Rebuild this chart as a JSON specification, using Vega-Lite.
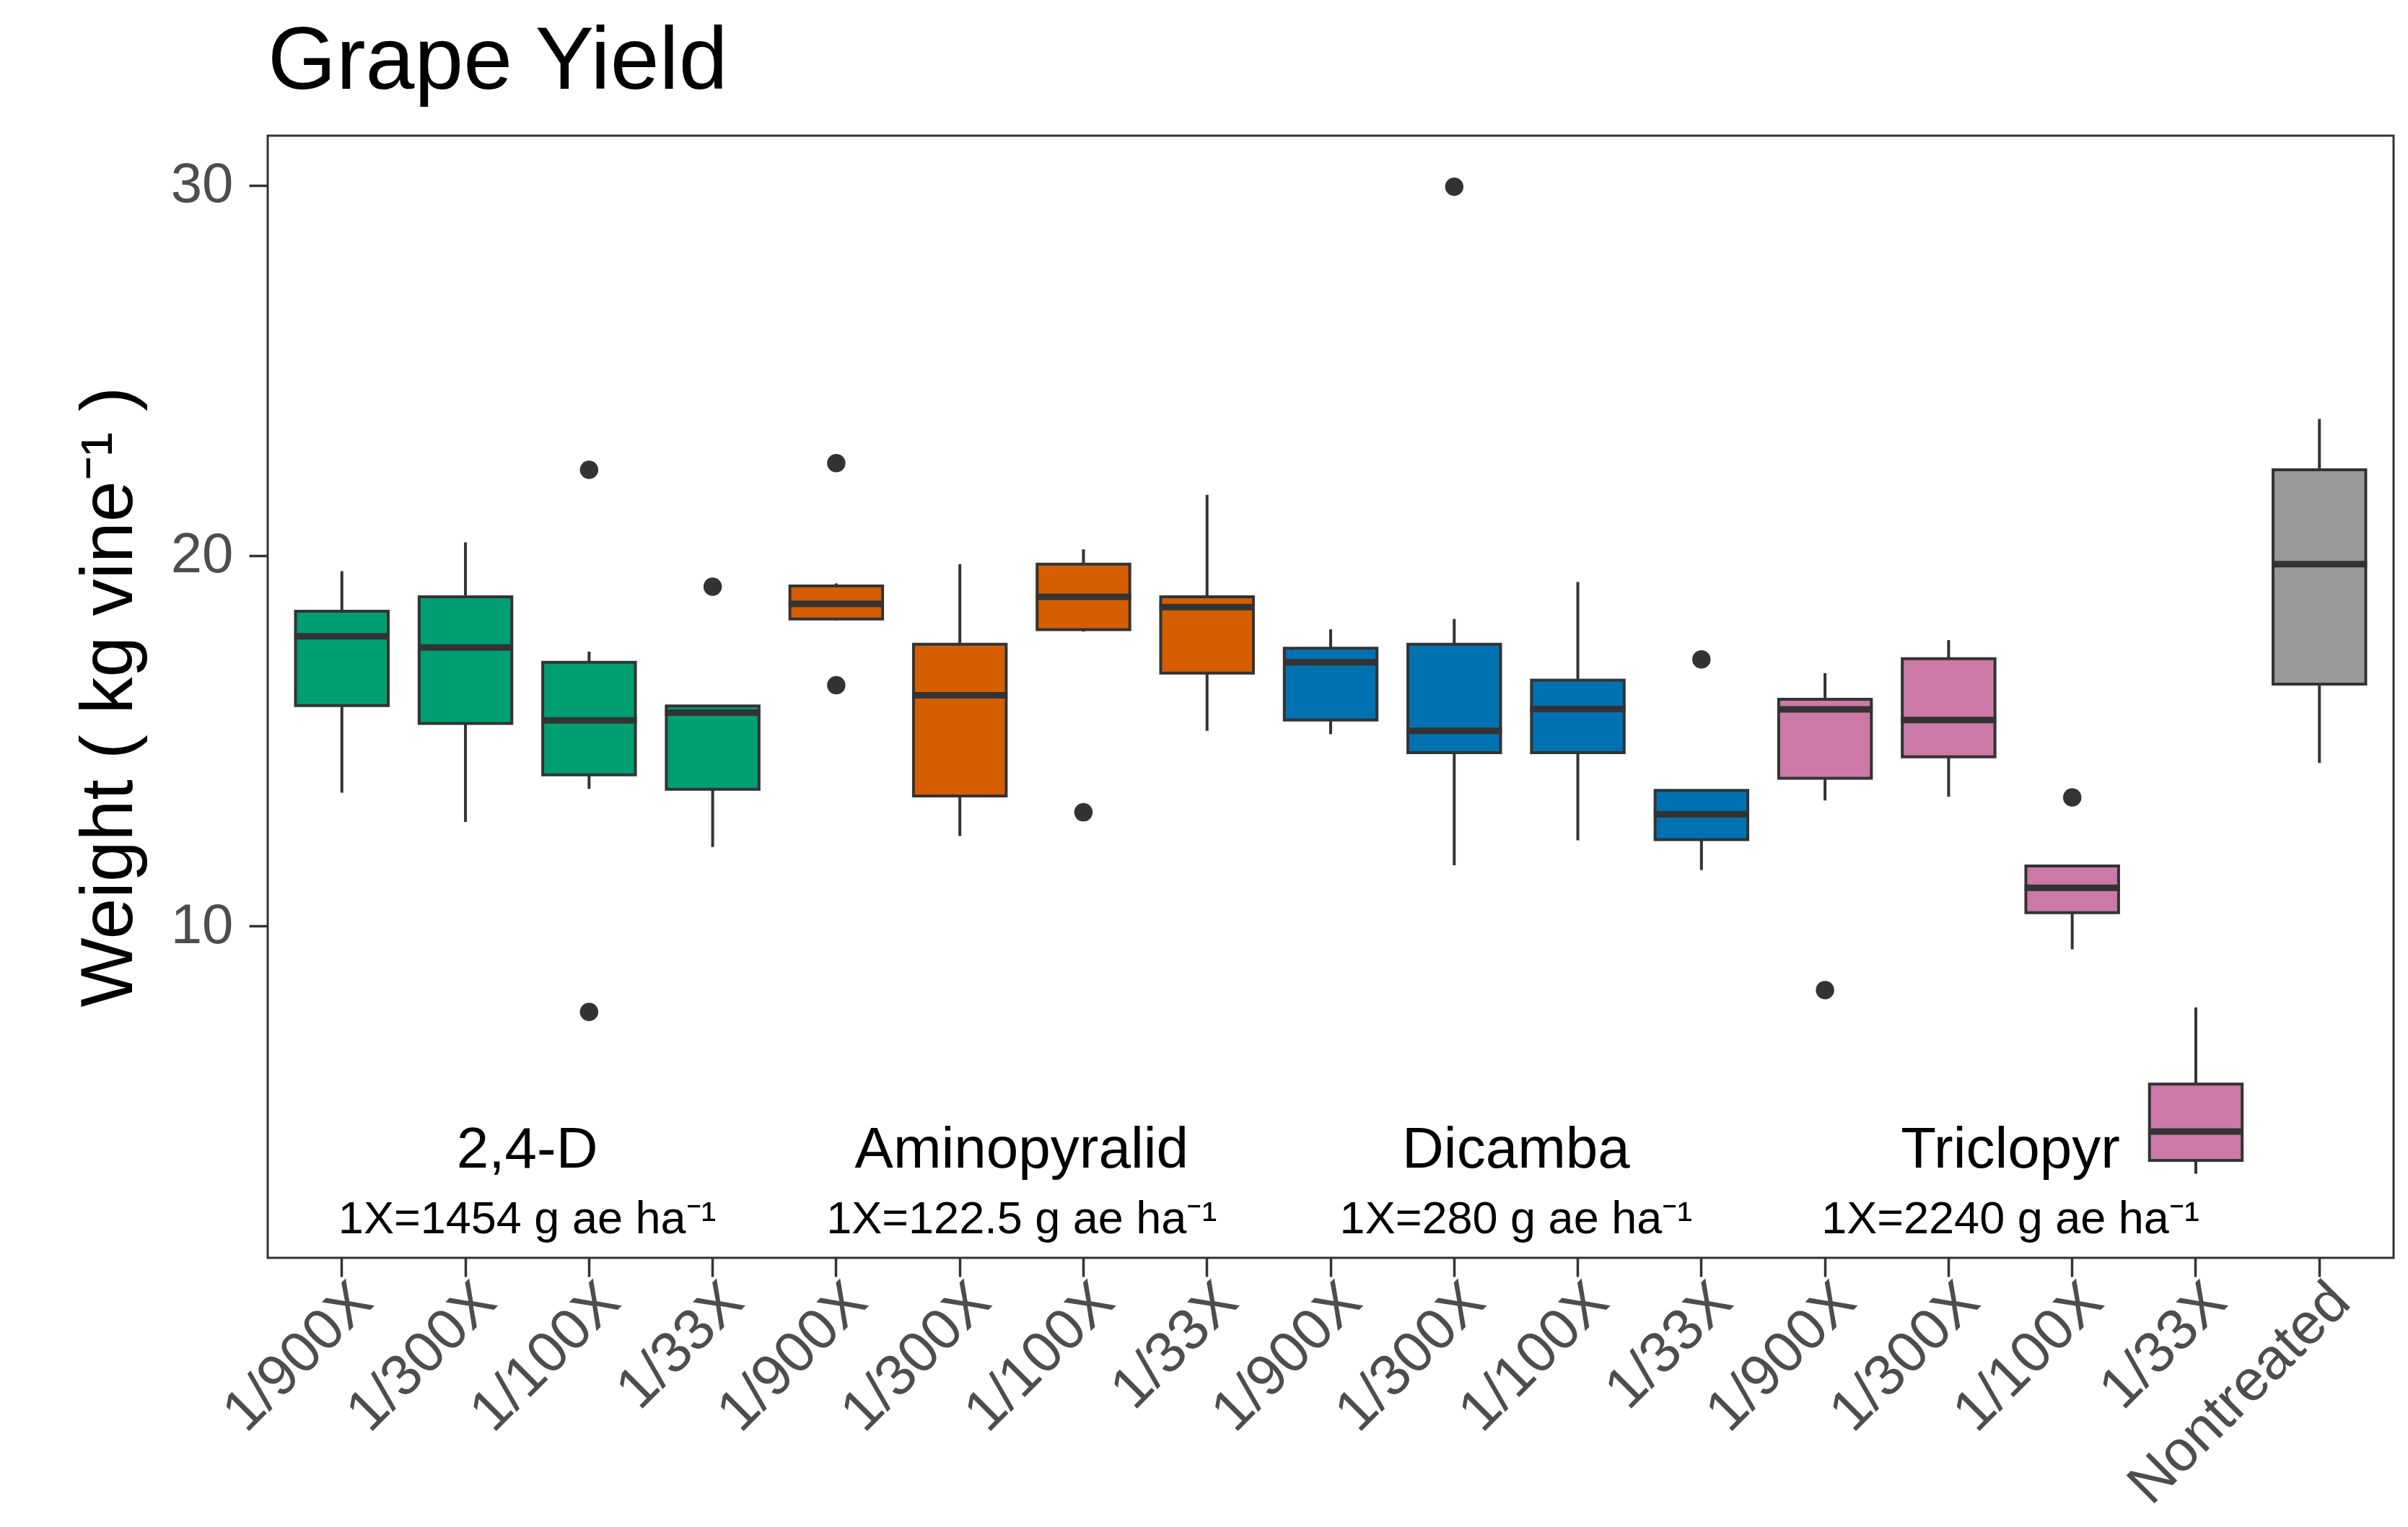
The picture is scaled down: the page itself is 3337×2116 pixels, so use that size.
{
  "$schema": "https://vega.github.io/schema/vega-lite/v6.json",
  "width": 2946,
  "height": 1555,
  "autosize": {"type": "none"},
  "padding": {"left": 371, "top": 188, "right": 20, "bottom": 373},
  "background": "white",
  "title": {
    "text": "Grape Yield",
    "anchor": "start",
    "frame": "group",
    "fontSize": 122,
    "fontWeight": "normal",
    "font": "Liberation Sans",
    "color": "#000000",
    "baseline": "alphabetic",
    "offset": -57
  },
  "config": {
    "font": "Liberation Sans",
    "view": {"stroke": "#333333", "strokeWidth": 3}
  },
  "datasets": {
    "boxes": [
      {"trt": "2,4-D|1/900X", "herb": "2,4-D", "lower": 13.60, "q1": 15.95, "median": 17.82, "q3": 18.50, "upper": 19.58},
      {"trt": "2,4-D|1/300X", "herb": "2,4-D", "lower": 12.81, "q1": 15.47, "median": 17.52, "q3": 18.89, "upper": 20.36},
      {"trt": "2,4-D|1/100X", "herb": "2,4-D", "lower": 13.70, "q1": 14.08, "median": 15.55, "q3": 17.12, "upper": 17.41},
      {"trt": "2,4-D|1/33X", "herb": "2,4-D", "lower": 12.13, "q1": 13.69, "median": 15.76, "q3": 15.94, "upper": 15.94},
      {"trt": "Aminopyralid|1/900X", "herb": "Aminopyralid", "lower": 18.25, "q1": 18.29, "median": 18.70, "q3": 19.18, "upper": 19.25},
      {"trt": "Aminopyralid|1/300X", "herb": "Aminopyralid", "lower": 12.43, "q1": 13.51, "median": 16.23, "q3": 17.61, "upper": 19.77},
      {"trt": "Aminopyralid|1/100X", "herb": "Aminopyralid", "lower": 17.95, "q1": 18.00, "median": 18.89, "q3": 19.77, "upper": 20.17},
      {"trt": "Aminopyralid|1/33X", "herb": "Aminopyralid", "lower": 15.27, "q1": 16.83, "median": 18.61, "q3": 18.89, "upper": 21.64},
      {"trt": "Dicamba|1/900X", "herb": "Dicamba", "lower": 15.18, "q1": 15.56, "median": 17.12, "q3": 17.50, "upper": 18.01},
      {"trt": "Dicamba|1/300X", "herb": "Dicamba", "lower": 11.64, "q1": 14.68, "median": 15.27, "q3": 17.61, "upper": 18.29},
      {"trt": "Dicamba|1/100X", "herb": "Dicamba", "lower": 12.31, "q1": 14.68, "median": 15.86, "q3": 16.64, "upper": 19.29},
      {"trt": "Dicamba|1/33X", "herb": "Dicamba", "lower": 11.51, "q1": 12.33, "median": 13.02, "q3": 13.66, "upper": 13.66},
      {"trt": "Triclopyr|1/900X", "herb": "Triclopyr", "lower": 13.39, "q1": 13.99, "median": 15.85, "q3": 16.12, "upper": 16.83},
      {"trt": "Triclopyr|1/300X", "herb": "Triclopyr", "lower": 13.49, "q1": 14.57, "median": 15.56, "q3": 17.22, "upper": 17.72},
      {"trt": "Triclopyr|1/100X", "herb": "Triclopyr", "lower": 9.37, "q1": 10.36, "median": 11.03, "q3": 11.62, "upper": 11.62},
      {"trt": "Triclopyr|1/33X", "herb": "Triclopyr", "lower": 3.31, "q1": 3.67, "median": 4.45, "q3": 5.73, "upper": 7.80},
      {"trt": "Nontreated", "herb": "Nontreated", "lower": 14.40, "q1": 16.53, "median": 19.77, "q3": 22.32, "upper": 23.69}
    ],
    "outliers": [
      {"trt": "2,4-D|1/100X", "value": 22.32},
      {"trt": "2,4-D|1/100X", "value": 7.68},
      {"trt": "2,4-D|1/33X", "value": 19.16},
      {"trt": "Aminopyralid|1/900X", "value": 22.50},
      {"trt": "Aminopyralid|1/900X", "value": 16.50},
      {"trt": "Aminopyralid|1/100X", "value": 13.07},
      {"trt": "Dicamba|1/300X", "value": 29.96},
      {"trt": "Dicamba|1/33X", "value": 17.20},
      {"trt": "Triclopyr|1/900X", "value": 8.27},
      {"trt": "Triclopyr|1/100X", "value": 13.47}
    ],
    "labels": [
      {"trt": "2,4-D|1/300X", "name": "2,4-D", "rate": "1X=1454 g ae ha⁻¹"},
      {"trt": "Aminopyralid|1/300X", "name": "Aminopyralid", "rate": "1X=122.5 g ae ha⁻¹"},
      {"trt": "Dicamba|1/300X", "name": "Dicamba", "rate": "1X=280 g ae ha⁻¹"},
      {"trt": "Triclopyr|1/300X", "name": "Triclopyr", "rate": "1X=2240 g ae ha⁻¹"}
    ]
  },
  "encoding": {
    "x": {
      "field": "trt",
      "type": "nominal",
      "sort": null,
      "scale": {
        "type": "band",
        "paddingInner": 0,
        "paddingOuter": 0.1,
        "domain": ["2,4-D|1/900X", "2,4-D|1/300X", "2,4-D|1/100X", "2,4-D|1/33X", "Aminopyralid|1/900X", "Aminopyralid|1/300X", "Aminopyralid|1/100X", "Aminopyralid|1/33X", "Dicamba|1/900X", "Dicamba|1/300X", "Dicamba|1/100X", "Dicamba|1/33X", "Triclopyr|1/900X", "Triclopyr|1/300X", "Triclopyr|1/100X", "Triclopyr|1/33X", "Nontreated"]
      },
      "axis": {
        "title": null,
        "domain": false,
        "grid": false,
        "labelExpr": "indexof(datum.label, '|') >= 0 ? split(datum.label, '|')[1] : datum.label",
        "labelAngle": 315,
        "labelAlign": "right",
        "labelBaseline": "top",
        "labelFontSize": 80,
        "labelColor": "#4D4D4D",
        "labelFont": "Liberation Sans",
        "labelPadding": -6,
        "labelOffset": 2,
        "labelOverlap": false,
        "labelBound": false,
        "labelLimit": 2000,
        "tickColor": "#333333",
        "tickSize": 26,
        "tickWidth": 3.5
      }
    }
  },
  "layer": [
    {
      "data": {"name": "boxes"},
      "mark": {"type": "rule", "color": "#333333", "strokeWidth": 4},
      "encoding": {
        "y": {
          "field": "lower",
          "type": "quantitative",
          "scale": {"domain": [1.04, 31.34], "nice": false, "zero": false},
          "axis": {
            "title": "Weight ( kg vine⁻¹ )",
            "values": [10, 20, 30],
            "grid": false,
            "domain": false,
            "labelFontSize": 78,
            "labelColor": "#4D4D4D",
            "labelFont": "Liberation Sans",
            "labelPadding": 22,
            "tickColor": "#333333",
            "tickSize": 26,
            "tickWidth": 3.5,
            "titleFontSize": 102,
            "titleFontWeight": "normal",
            "titleFont": "Liberation Sans",
            "titleColor": "#000000",
            "titlePadding": 33
          }
        },
        "y2": {"field": "upper"}
      }
    },
    {
      "data": {"name": "boxes"},
      "mark": {"type": "bar", "stroke": "#333333", "strokeWidth": 4, "width": {"band": 0.75}},
      "encoding": {
        "y": {"field": "q1", "type": "quantitative"},
        "y2": {"field": "q3"},
        "fill": {
          "field": "herb",
          "type": "nominal",
          "scale": {
            "domain": ["2,4-D", "Aminopyralid", "Dicamba", "Triclopyr", "Nontreated"],
            "range": ["#009E73", "#D55E00", "#0072B2", "#CC79A7", "#999999"]
          },
          "legend": null
        }
      }
    },
    {
      "data": {"name": "boxes"},
      "mark": {"type": "tick", "color": "#333333", "thickness": 9, "size": 132, "opacity": 1},
      "encoding": {
        "y": {"field": "median", "type": "quantitative"}
      }
    },
    {
      "data": {"name": "outliers"},
      "mark": {"type": "circle", "color": "#333333", "size": 650, "opacity": 1},
      "encoding": {
        "y": {"field": "value", "type": "quantitative"}
      }
    },
    {
      "data": {"name": "labels"},
      "mark": {"type": "text", "fontSize": 80, "color": "#000000", "align": "center", "baseline": "alphabetic", "font": "Liberation Sans"},
      "encoding": {
        "x": {"field": "trt", "type": "nominal", "bandPosition": 1},
        "y": {"datum": 3.47, "type": "quantitative"},
        "text": {"field": "name"}
      }
    },
    {
      "data": {"name": "labels"},
      "mark": {"type": "text", "fontSize": 63, "color": "#000000", "align": "center", "baseline": "alphabetic", "font": "Liberation Sans"},
      "encoding": {
        "x": {"field": "trt", "type": "nominal", "bandPosition": 1},
        "y": {"datum": 1.71, "type": "quantitative"},
        "text": {"field": "rate"}
      }
    }
  ]
}
